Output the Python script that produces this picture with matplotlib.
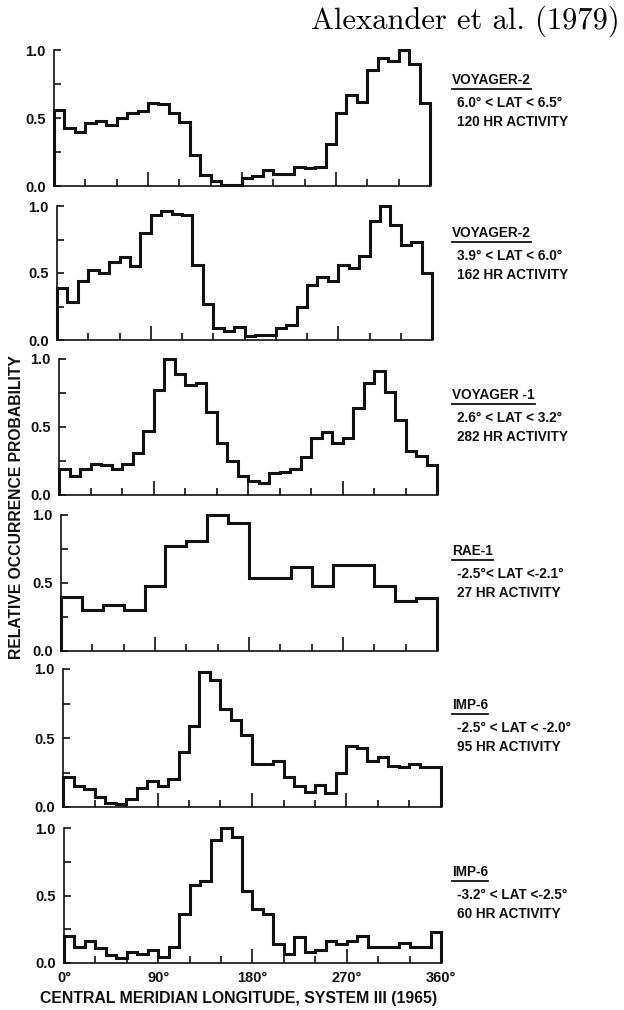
import numpy as np
import matplotlib
matplotlib.use('Agg')
import matplotlib.pyplot as plt
from matplotlib.lines import Line2D

plt.rcParams['font.family'] = ['Liberation Sans', 'DejaVu Sans']

# relative occurrence probability per 10 deg bin (RAE-1: 20 deg bins)
voyager2_hi = [0.56, 0.43, 0.40, 0.46, 0.48, 0.45, 0.50, 0.54, 0.55, 0.61, 0.60, 0.54,
               0.47, 0.23, 0.08, 0.04, 0.01, 0.01, 0.06, 0.07, 0.12, 0.09, 0.09, 0.14,
               0.13, 0.14, 0.31, 0.54, 0.67, 0.62, 0.85, 0.94, 0.92, 1.00, 0.90, 0.61]
voyager2_lo = [0.39, 0.28, 0.44, 0.52, 0.50, 0.58, 0.62, 0.55, 0.80, 0.93, 0.96, 0.94,
               0.93, 0.56, 0.27, 0.09, 0.07, 0.10, 0.03, 0.04, 0.035, 0.09, 0.11, 0.25,
               0.41, 0.47, 0.44, 0.56, 0.54, 0.63, 0.89, 1.00, 0.86, 0.71, 0.73, 0.50]
voyager1 = [0.19, 0.14, 0.19, 0.23, 0.22, 0.19, 0.23, 0.31, 0.47, 0.77, 1.00, 0.89,
            0.81, 0.82, 0.61, 0.38, 0.25, 0.14, 0.10, 0.09, 0.16, 0.17, 0.19, 0.28,
            0.42, 0.46, 0.38, 0.42, 0.64, 0.82, 0.91, 0.76, 0.55, 0.32, 0.29, 0.22]
rae1 = [0.40, 0.30, 0.34, 0.30, 0.48, 0.77, 0.81, 1.00, 0.94,
        0.54, 0.54, 0.62, 0.48, 0.63, 0.63, 0.48, 0.37, 0.39]
imp6_a = [0.22, 0.15, 0.13, 0.07, 0.03, 0.025, 0.06, 0.14, 0.19, 0.15, 0.20, 0.40,
          0.59, 0.98, 0.92, 0.71, 0.63, 0.52, 0.31, 0.31, 0.33, 0.22, 0.15, 0.11,
          0.16, 0.10, 0.25, 0.44, 0.43, 0.33, 0.36, 0.30, 0.29, 0.31, 0.29, 0.29]
imp6_b = [0.20, 0.12, 0.16, 0.11, 0.06, 0.04, 0.08, 0.07, 0.10, 0.045, 0.12, 0.36,
          0.58, 0.61, 0.91, 1.00, 0.93, 0.53, 0.40, 0.36, 0.14, 0.07, 0.19, 0.08,
          0.10, 0.16, 0.14, 0.16, 0.20, 0.12, 0.12, 0.12, 0.15, 0.12, 0.12, 0.23]

panel_data = [voyager2_hi, voyager2_lo, voyager1, rae1, imp6_a, imp6_b]
bin_widths = [10, 10, 10, 20, 10, 10]
craft_names = ['VOYAGER-2', 'VOYAGER-2', 'VOYAGER -1', 'RAE-1', 'IMP-6', 'IMP-6']
lat_ranges = ['6.0\u00b0 < LAT < 6.5\u00b0', '3.9\u00b0 < LAT < 6.0\u00b0',
              '2.6\u00b0 < LAT < 3.2\u00b0', '-2.5\u00b0< LAT <-2.1\u00b0',
              '-2.5\u00b0 < LAT < -2.0\u00b0', '-3.2\u00b0 < LAT <-2.5\u00b0']
activity = ['120 HR ACTIVITY', '162 HR ACTIVITY', '282 HR ACTIVITY',
            '27 HR ACTIVITY', '95 HR ACTIVITY', '60 HR ACTIVITY']
xtick_labels = ['0\u00b0', '90\u00b0', '180\u00b0', '270\u00b0', '360\u00b0']

W, H = 624, 1010
fig = plt.figure(figsize=(W / 100, H / 100), dpi=100)

# pixel boxes: (x at 0deg, x at 360deg, y at 1.0, y at 0.0)
boxes = [(54, 430, 50, 186), (57, 432, 206, 340), (59, 437, 359, 495),
         (61, 437, 515, 651), (63, 441, 669, 807), (64, 441, 828, 963)]
label_y = [80, 233, 395, 551, 705, 872]
ytop = 1.04
ink = '#111111'

name_texts = []
for i, (vals, bw) in enumerate(zip(panel_data, bin_widths)):
    x0, x1, y1, y0 = boxes[i]
    hpx = (y0 - y1) * ytop
    ax = fig.add_axes([x0 / W, (H - y0) / H, (x1 - x0) / W, hpx / H])
    edges = np.arange(0, 361, bw)
    ax.stairs(vals, edges, baseline=0, color=ink, linewidth=2.2, clip_on=False)
    ax.set_xlim(0, 360)
    ax.set_ylim(0, ytop)
    for s in ['top', 'right']:
        ax.spines[s].set_visible(False)
    ax.spines['left'].set_bounds(0, 1)
    for s in ['left', 'bottom']:
        ax.spines[s].set_linewidth(1.2)
        ax.spines[s].set_color(ink)
    ax.set_xticks([0, 90, 180, 270, 360])
    ax.set_xticks(np.arange(30, 360, 30), minor=True)
    ax.set_yticks([0, 0.5, 1.0])
    ax.set_yticks([0.25, 0.75], minor=True)
    ax.set_yticklabels(['0.0', '0.5', '1.0'], fontsize=10.5, fontweight='bold', color=ink)
    ax.tick_params(axis='x', which='major', direction='in', length=10, width=1.2, color=ink)
    ax.tick_params(axis='x', which='minor', direction='in', length=5, width=1.2, color=ink)
    ax.tick_params(axis='y', which='both', direction='in', length=5, width=1.2, color=ink, pad=6)
    if i == len(panel_data) - 1:
        ax.set_xticklabels(xtick_labels, fontsize=10.5, fontweight='bold', color=ink)
        ax.tick_params(axis='x', which='major', pad=6)
    else:
        ax.tick_params(axis='x', labelbottom=False)

    ly = label_y[i]
    t = fig.text(452 / W, 1 - ly / H, craft_names[i], fontsize=9.8, fontweight='bold',
                 color=ink, va='center', ha='left')
    name_texts.append(t)
    fig.text(457 / W, 1 - (ly + 23) / H, lat_ranges[i], fontsize=9.8, fontweight='bold',
             color=ink, va='center', ha='left')
    fig.text(457 / W, 1 - (ly + 42) / H, activity[i], fontsize=9.8, fontweight='bold',
             color=ink, va='center', ha='left')

# underline spacecraft names
fig.canvas.draw()
renderer = fig.canvas.get_renderer()
for t in name_texts:
    bb = t.get_window_extent(renderer)
    yl = (bb.y0 - 2) / H
    fig.add_artist(Line2D([bb.x0 / W, bb.x1 / W], [yl, yl], color=ink, linewidth=1.3))

fig.text(17 / W, 1 - 507 / H, 'RELATIVE OCCURRENCE PROBABILITY', rotation=90,
         fontsize=11.3, fontweight='bold', color=ink, ha='center', va='center')
fig.text(239 / W, 1 - 998 / H, 'CENTRAL MERIDIAN LONGITUDE, SYSTEM III (1965)',
         fontsize=11.4, fontweight='bold', color=ink, ha='center', va='center')
fig.text(620 / W, 1 - 21 / H, 'Alexander et al. (1979)', family='cmr10',
         fontsize=22, color='black', ha='right', va='center')

fig.savefig('out.png', dpi=100, facecolor='white')
